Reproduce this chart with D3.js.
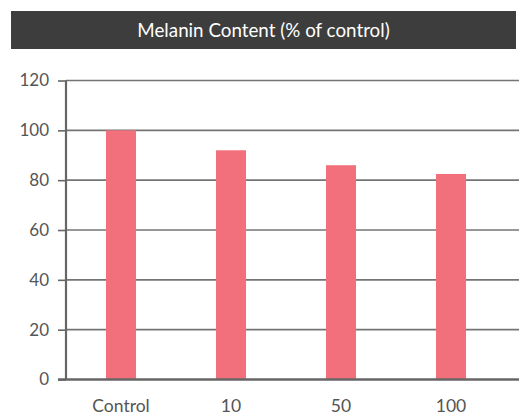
<!DOCTYPE html>
<html><head><meta charset="utf-8">
<script src="https://cdn.jsdelivr.net/npm/d3@7"></script>
<style>body{margin:0;background:#fff;}svg{display:block;}</style>
</head><body>
<svg id="c" width="527" height="416"></svg>
<script>
const categories = ["Control", "10", "50", "100"];
const values = [100, 92, 86, 82.5];
const yTicks = [0, 20, 40, 60, 80, 100, 120];
const title = "Melanin Content (% of control)";

const svg = d3.select("#c");
const font = "Lato, 'Noto Sans', sans-serif";
const axisX = 66, plotRight = 519, bandRight = 506;
const y = d3.scaleLinear().domain([0, 120]).range([379.5, 80.5]);
const x = d3.scaleBand().domain(categories).range([axisX, bandRight]).paddingInner(0.727).paddingOuter(0.3635);

// title bar
svg.append("rect").attr("x", 11).attr("y", 11).attr("width", 505).attr("height", 38).attr("fill", "#3d3d3d");
svg.append("text").attr("x", 263.5).attr("y", 36.5).attr("text-anchor", "middle")
  .attr("fill", "#fff").attr("font-family", font).attr("font-size", 18.8).text(title);

// gridlines
svg.append("g").selectAll("line").data(yTicks.filter(d => d > 0)).join("line")
  .attr("x1", axisX).attr("x2", plotRight).attr("y1", d => y(d)).attr("y2", d => y(d))
  .attr("stroke", "#747474").attr("stroke-width", 1.6);

// bars
svg.append("g").selectAll("rect").data(values).join("rect")
  .attr("x", (d, i) => x(categories[i]))
  .attr("width", x.bandwidth())
  .attr("y", d => y(d))
  .attr("height", d => y(0) - y(d))
  .attr("fill", "#f2707b");

// y axis
const ya = svg.append("g").attr("transform", `translate(${axisX},0)`)
  .call(d3.axisLeft(y).tickValues(yTicks).tickSize(8).tickPadding(9));
ya.select(".domain").attr("stroke", "#666").attr("stroke-width", 2.2)
  .attr("d", `M0,${y(120)}V${y(0)}`);
ya.selectAll(".tick line").attr("stroke", "#666").attr("stroke-width", 1.6);
ya.selectAll(".tick text").attr("fill", "#555").attr("font-family", font).attr("font-size", 17);

// x axis
const xa = svg.append("g").attr("transform", `translate(0,${y(0)})`)
  .call(d3.axisBottom(x).tickSize(0).tickPadding(20));
xa.select(".domain").attr("stroke", "#666").attr("stroke-width", 2.6)
  .attr("d", `M58,0H${plotRight}`);
xa.selectAll(".tick text").attr("fill", "#555").attr("font-family", font).attr("font-size", 17.5);
</script>
</body></html>
